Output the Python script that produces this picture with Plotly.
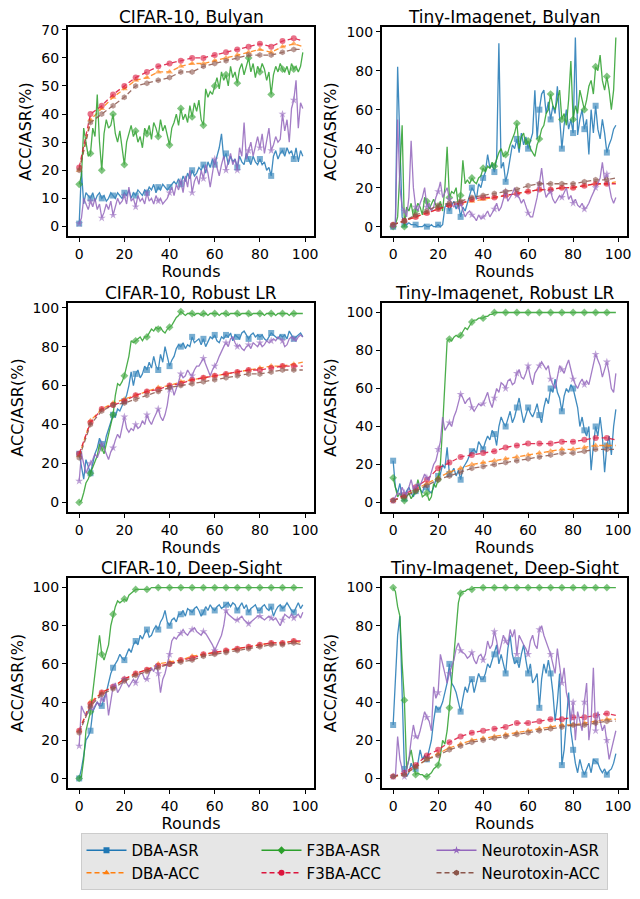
import plotly.graph_objects as go

ROUNDS = list(range(100))
ACC_ROUNDS = [0, 5, 10, 15, 20, 25, 30, 35, 40, 45, 50, 55, 60, 65, 70, 75, 80, 85, 90, 95, 99]
X_TICKS = [0, 20, 40, 60, 80, 100]

SERIES_NAMES = ["DBA-ASR", "DBA-ACC", "F3BA-ASR", "F3BA-ACC", "Neurotoxin-ASR", "Neurotoxin-ACC"]
PANEL_TITLES = ["CIFAR-10, Bulyan", "Tiny-Imagenet, Bulyan",
                "CIFAR-10, Robust LR", "Tiny-Imagenet, Robust LR",
                "CIFAR-10, Deep-Sight", "Tiny-Imagenet, Deep-Sight"]

# ---------------- CIFAR-10, Bulyan ----------------
c10_bul_dba_asr = [1, 20, 8, 12, 11, 10, 12, 9, 11, 12,
                   10, 11, 9, 10, 12, 11, 10, 12, 11, 10,
                   12, 11, 13, 10, 12, 11, 13, 12, 11, 13,
                   12, 14, 13, 15, 12, 14, 13, 15, 14, 13,
                   14, 15, 16, 15, 17, 15, 18, 16, 19, 17,
                   20, 18, 19, 21, 20, 22, 19, 23, 21, 24,
                   22, 25, 28, 33, 24, 26, 22, 25, 23, 24,
                   21, 25, 23, 22, 26, 24, 22, 25, 23, 22,
                   24, 22, 23, 20, 21, 18, 25, 27, 24, 26,
                   27, 25, 28, 26, 27, 24, 28, 23, 27, 25]
c10_bul_f3ba_asr = [15, 18, 35, 30, 25, 26, 35, 32, 47, 30,
                    20, 33, 38, 35, 36, 40, 33, 30, 34, 28,
                    22, 30, 33, 36, 32, 34, 30, 32, 28, 35,
                    33, 36, 31, 37, 35, 32, 38, 34, 36, 33,
                    29, 35, 37, 40, 36, 42, 38, 40, 37, 43,
                    39, 44, 41, 45, 38, 36, 49, 46, 48, 47,
                    50, 53, 49, 55, 52, 54, 50, 57, 53, 55,
                    51, 56, 58, 54, 57, 60, 55, 58, 53, 57,
                    55, 58, 56, 52, 55, 47, 54, 57, 55, 58,
                    56, 55, 57, 54, 58, 56, 57, 55, 57, 62]
c10_bul_neuro_asr = [1, 3, 10, 8, 6, 9, 7, 10, 6, 8,
                     3, 5, 8, 6, 9, 4, 7, 10, 8, 9,
                     11, 8, 14, 9, 10, 7, 11, 9, 10, 8,
                     12, 9, 10, 8, 11, 9, 10, 8, 9, 10,
                     12, 14, 11, 15, 13, 16, 12, 18, 14, 20,
                     12, 16, 18, 15, 20, 17, 22, 19, 14, 20,
                     24, 21, 18, 22, 25, 20, 23, 26, 22, 24,
                     20, 28, 25, 37, 24, 27, 30, 25, 29, 32,
                     28, 33, 26, 30, 35, 27, 29, 32, 30, 31,
                     40, 34, 38, 30, 42, 45, 52, 35, 44, 42]
c10_bul_dba_acc = [20, 38, 42, 46, 49, 52, 53, 55, 55, 57, 58, 58, 59, 60, 61, 62, 63, 62, 64, 65, 64]
c10_bul_f3ba_acc = [21, 40, 43, 47, 50, 53, 55, 57, 58, 59, 60, 60, 61, 62, 63, 64, 65, 64, 66, 67, 66]
c10_bul_neuro_acc = [20, 37, 40, 43, 46, 50, 51, 52, 53, 55, 55, 57, 58, 59, 60, 61, 61, 61, 62, 63, 63]

# ---------------- Tiny-Imagenet, Bulyan ----------------
tin_bul_dba_asr = [0, 1, 82, 40, 5, 1, 1, 2, 1, 1,
                   1, 0, 0, 0, 1, 0, 0, 1, 0, 0,
                   1, 0, 1, 10, 12, 8, 11, 13, 9, 12,
                   5, 10, 8, 12, 15, 20, 18, 14, 22, 20,
                   25, 28, 37, 30, 32, 28, 35, 94, 30, 33,
                   23, 28, 35, 42, 40, 45, 38, 48, 42, 46,
                   40, 44, 48, 70, 45, 60, 68, 70, 58, 64,
                   55, 62, 58, 72, 55, 40, 52, 60, 50, 55,
                   48, 97, 47, 55, 60, 50, 55, 37, 60, 48,
                   62, 50, 45, 55, 48, 38, 42, 45, 50, 52]
tin_bul_f3ba_asr = [0, 1, 5, 30, 52, 0, 10, 8, 12, 5,
                    8, 12, 10, 6, 15, 13, 9, 12, 14, 11,
                    10, 13, 8, 20, 41, 15, 18, 17, 20, 10,
                    16, 34, 22, 24, 22, 25, 23, 22, 25, 26,
                    30, 28, 31, 30, 33, 31, 35, 38, 40, 36,
                    37, 38, 42, 45, 48, 53, 40, 46, 48, 42,
                    44, 40, 38, 36, 42, 45, 50, 52, 58, 60,
                    68, 62, 60, 65, 70, 55, 58, 52, 65, 85,
                    55, 62, 58, 70, 65, 60, 65, 72, 75, 68,
                    82, 80, 88, 75, 70, 77, 70, 60, 70, 97]
tin_bul_neuro_asr = [0, 1, 55, 20, 10, 8, 5, 15, 44, 20,
                     10, 8, 12, 15, 20, 10, 12, 8, 10, 15,
                     18, 23, 15, 18, 20, 14, 12, 10, 12, 9,
                     12, 8, 5, 7, 8, 6, 5, 3, 6, 4,
                     5, 6, 8, 5, 7, 9, 12, 8, 10, 14,
                     18, 13, 15, 17, 20, 16, 15, 12, 14, 10,
                     7, 5, 5, 10, 15, 22, 30, 20, 15, 17,
                     18, 14, 12, 14, 16, 15, 18, 20, 14, 16,
                     12, 14, 11, 10, 12, 9, 10, 12, 15, 18,
                     20, 22, 25, 33, 24, 27, 20, 15, 12, 15]
tin_bul_dba_acc = [1, 3, 5, 7, 9, 11, 12, 13, 14, 15, 16, 17, 18, 19, 19, 20, 20, 21, 22, 22, 23]
tin_bul_f3ba_acc = [1, 3, 5, 7, 9, 11, 12, 14, 15, 15, 16, 17, 18, 19, 19, 20, 20, 21, 22, 22, 22]
tin_bul_neuro_acc = [1, 3, 6, 8, 11, 12, 13, 15, 16, 17, 18, 19, 21, 22, 22, 22, 22, 23, 24, 24, 25]

# ---------------- CIFAR-10, Robust LR ----------------
c10_rlr_dba_asr = [25, 18, 12, 22, 18, 15, 20, 25, 28, 33,
                   30, 28, 34, 38, 42, 45, 44, 48, 47, 50,
                   52, 55, 60, 67, 60, 66, 68, 64, 66, 70,
                   68, 72, 69, 75, 70, 68, 76, 72, 80, 74,
                   70, 73, 75, 79, 81, 80, 82, 79, 81, 80,
                   85, 82, 83, 84, 81, 84, 80, 83, 85, 84,
                   86, 83, 82, 85, 84, 86, 85, 87, 83, 86,
                   85, 84, 87, 88, 86, 84, 86, 87, 85, 86,
                   85, 86, 84, 83, 85, 87, 86, 85, 84, 86,
                   85, 86, 84, 88, 86, 84, 85, 86, 87, 85]
c10_rlr_f3ba_asr = [0, 1, 5, 10, 12, 15, 17, 20, 24, 30,
                    28, 25, 30, 35, 40, 45, 55, 61, 60, 62,
                    65, 70, 75, 83, 82, 83, 84, 85, 83, 85,
                    85, 87, 89, 88, 90, 89, 90, 88, 87, 89,
                    90, 91, 93, 95, 96, 98, 97, 96, 97, 97,
                    97, 96, 97, 97, 96, 97, 97, 96, 97, 97,
                    97, 97, 96, 97, 97, 97, 96, 97, 97, 97,
                    97, 96, 97, 97, 97, 97, 96, 97, 97, 97,
                    97, 97, 96, 97, 97, 97, 97, 96, 97, 97,
                    97, 97, 97, 96, 97, 97, 97, 97, 97, 97]
c10_rlr_neuro_asr = [11, 25, 20, 15, 18, 20, 22, 25, 23, 26,
                     30, 28, 25, 22, 26, 28, 32, 35, 33, 38,
                     44, 38, 36, 38, 37, 40, 38, 39, 42, 40,
                     45, 42, 40, 43, 46, 48, 44, 42, 45, 50,
                     58, 60, 55, 58, 62, 66, 64, 65, 68, 66,
                     65, 68, 70, 70, 72, 74, 71, 68, 65, 68,
                     70, 72, 75, 78, 80, 82, 80, 84, 85, 82,
                     80, 81, 79, 78, 80, 81, 79, 82, 81, 80,
                     82, 80, 81, 83, 82, 83, 84, 83, 85, 84,
                     83, 80, 81, 84, 85, 84, 83, 85, 86, 85]
c10_rlr_dba_acc = [24, 42, 48, 51, 53, 55, 57, 59, 60, 62, 63, 64, 65, 66, 67, 68, 69, 70, 70, 71, 72]
c10_rlr_f3ba_acc = [25, 41, 48, 50, 52, 55, 57, 58, 60, 61, 63, 64, 65, 66, 67, 68, 68, 69, 70, 70, 70]
c10_rlr_neuro_acc = [23, 40, 47, 50, 51, 53, 55, 57, 59, 60, 61, 62, 63, 64, 65, 66, 66, 67, 68, 68, 68]

# ---------------- Tiny-Imagenet, Robust LR ----------------
tin_rlr_dba_asr = [22, 8, 5, 10, 3, 2, 6, 8, 5, 3,
                   6, 10, 7, 5, 9, 8, 6, 5, 8, 12,
                   14, 15, 20, 18, 29, 15, 16, 18, 14, 17,
                   12, 18, 20, 22, 25, 27, 28, 26, 32, 30,
                   28, 32, 35, 33, 38, 36, 30, 40, 45, 42,
                   40, 44, 48, 42, 45, 50, 55, 48, 42, 46,
                   50, 47, 45, 48, 52, 46, 42, 50, 55, 52,
                   60, 58, 65, 58, 55, 48, 56, 60, 58, 62,
                   60, 55, 50, 40, 45, 38, 35, 40, 17, 30,
                   40, 35, 45, 35, 16, 30, 35, 25, 40, 49]
tin_rlr_f3ba_asr = [13, 8, 3, 5, 2, 1, 3, 5, 2, 4,
                    6, 12, 8, 3, 4, 5, 1, 3, 10, 8,
                    12, 20, 40, 65, 85, 86, 85, 87, 88, 87,
                    88, 90, 92, 91, 93, 95, 96, 96, 97, 97,
                    97, 98, 98, 99, 99, 100, 100, 100, 100, 100,
                    100, 100, 100, 100, 100, 100, 100, 100, 100, 100,
                    100, 100, 100, 100, 100, 100, 100, 100, 100, 100,
                    100, 100, 100, 100, 100, 100, 100, 100, 100, 100,
                    100, 100, 100, 100, 100, 100, 100, 100, 100, 100,
                    100, 100, 100, 100, 100, 100, 100, 100, 100, 100]
tin_rlr_neuro_asr = [1, 3, 5, 4, 8, 5, 4, 8, 12, 7,
                     8, 10, 9, 12, 15, 13, 12, 16, 20, 22,
                     28, 32, 45, 38, 40, 42, 40, 45, 48, 52,
                     57, 55, 52, 54, 55, 50, 48, 50, 52, 51,
                     52, 55, 58, 53, 50, 55, 60, 58, 63, 62,
                     60, 64, 65, 62, 63, 68, 70, 66, 65, 68,
                     72, 66, 62, 68, 70, 72, 74, 72, 70, 72,
                     65, 62, 60, 66, 72, 70, 68, 72, 75, 70,
                     65, 62, 60, 63, 65, 62, 64, 62, 68, 72,
                     78, 75, 72, 66, 70, 74, 68, 60, 58, 68]
tin_rlr_dba_acc = [1, 3, 7, 10, 13, 16, 18, 20, 21, 22, 23, 24, 25, 26, 27, 28, 28, 29, 30, 30, 30]
tin_rlr_f3ba_acc = [1, 4, 8, 12, 18, 21, 24, 25, 26, 27, 29, 30, 31, 31, 31, 32, 32, 33, 34, 34, 33]
tin_rlr_neuro_acc = [1, 3, 6, 9, 12, 14, 16, 18, 19, 20, 21, 22, 23, 24, 25, 26, 26, 27, 28, 28, 28]

# ---------------- CIFAR-10, Deep-Sight ----------------
c10_ds_dba_asr = [0, 5, 12, 20, 22, 25, 35, 38, 40, 38,
                  38, 42, 45, 50, 55, 58, 60, 62, 65, 63,
                  62, 65, 68, 66, 70, 72, 70, 75, 73, 76,
                  78, 74, 75, 78, 80, 78, 82, 84, 88, 82,
                  80, 83, 84, 82, 86, 86, 88, 85, 89, 88,
                  87, 89, 90, 88, 85, 87, 90, 88, 91, 89,
                  88, 90, 91, 89, 90, 91, 92, 90, 92, 91,
                  88, 90, 92, 89, 91, 87, 89, 90, 91, 88,
                  88, 90, 91, 89, 88, 90, 85, 88, 90, 91,
                  89, 90, 92, 90, 88, 87, 90, 92, 89, 91]
c10_ds_f3ba_asr = [0, 1, 10, 25, 30, 35, 45, 55, 62, 75,
                   65, 62, 66, 70, 80, 86, 90, 93, 92, 93,
                   94, 93, 96, 97, 98, 99, 99, 99, 99, 99,
                   99, 99, 100, 100, 100, 100, 100, 100, 100, 100,
                   100, 100, 100, 100, 100, 100, 100, 100, 100, 100,
                   100, 100, 100, 100, 100, 100, 100, 100, 100, 100,
                   100, 100, 100, 100, 100, 100, 100, 100, 100, 100,
                   100, 100, 100, 100, 100, 100, 100, 100, 100, 100,
                   100, 100, 100, 100, 100, 100, 100, 100, 100, 100,
                   100, 100, 100, 100, 100, 100, 100, 100, 100, 100]
c10_ds_neuro_asr = [17, 38, 35, 33, 35, 37, 36, 38, 40, 38,
                    42, 40, 45, 33, 40, 48, 50, 45, 47, 50,
                    52, 50, 48, 50, 52, 50, 53, 55, 55, 52,
                    52, 55, 58, 56, 60, 55, 45, 52, 55, 60,
                    65, 72, 74, 73, 75, 76, 78, 76, 75, 77,
                    78, 79, 77, 76, 75, 77, 76, 74, 72, 70,
                    67, 70, 73, 75, 80, 88, 86, 85, 84, 83,
                    83, 84, 85, 83, 82, 81, 82, 83, 84, 85,
                    85, 84, 83, 84, 85, 84, 83, 84, 82, 80,
                    83, 86, 85, 84, 86, 84, 85, 86, 84, 87]
c10_ds_dba_acc = [25, 40, 45, 48, 52, 55, 57, 60, 61, 62, 64, 65, 66, 67, 68, 69, 70, 71, 71, 72, 71]
c10_ds_f3ba_acc = [25, 39, 45, 48, 52, 55, 57, 59, 60, 62, 63, 65, 66, 67, 68, 69, 70, 71, 71, 72, 72]
c10_ds_neuro_acc = [24, 38, 44, 47, 51, 54, 56, 58, 60, 61, 62, 64, 65, 66, 67, 68, 69, 70, 70, 71, 70]

# ---------------- Tiny-Imagenet, Deep-Sight ----------------
tin_ds_dba_asr = [28, 50, 75, 85, 40, 5, 1, 3, 8, 5,
                  5, 8, 15, 10, 12, 10, 15, 20, 30, 38,
                  36, 37, 40, 45, 50, 60, 50, 48, 45, 40,
                  35, 42, 48, 45, 50, 52, 45, 50, 55, 52,
                  52, 55, 60, 58, 62, 65, 70, 60, 65, 60,
                  55, 68, 75, 65, 60, 62, 58, 65, 70, 62,
                  55, 60, 50, 52, 55, 37, 52, 60, 55, 62,
                  55, 45, 30, 40, 55, 7, 15, 30, 45, 25,
                  15, 8, 3, 10, 5, 2, 5, 8, 3, 10,
                  9, 8, 5, 3, 5, 2, 4, 5, 8, 13]
tin_ds_f3ba_asr = [100, 98, 90, 85, 60, 41, 5, 10, 15, 8,
                   2, 3, 2, 2, 1, 1, 2, 3, 5, 6,
                   7, 12, 20, 18, 25, 37, 50, 65, 80, 92,
                   97, 98, 98, 99, 99, 99, 100, 100, 100, 100,
                   100, 100, 100, 100, 100, 100, 100, 100, 100, 100,
                   100, 100, 100, 100, 100, 100, 100, 100, 100, 100,
                   100, 100, 100, 100, 100, 100, 100, 100, 100, 100,
                   100, 100, 100, 100, 100, 100, 100, 100, 100, 100,
                   100, 100, 100, 100, 100, 100, 100, 100, 100, 100,
                   100, 100, 100, 100, 100, 100, 100, 100, 100, 100]
tin_ds_neuro_asr = [1, 1, 22, 10, 5, 1, 5, 10, 20, 28,
                    22, 21, 25, 30, 35, 32, 30, 25, 48, 42,
                    45, 65, 60, 55, 50, 55, 58, 62, 68, 71,
                    67, 66, 65, 63, 64, 66, 62, 60, 64, 65,
                    62, 65, 72, 68, 70, 77, 72, 65, 70, 75,
                    72, 70, 78, 74, 78, 65, 75, 72, 70, 68,
                    65, 72, 75, 70, 68, 78, 80, 75, 72, 68,
                    65, 60, 55, 68, 60, 50, 58, 45, 40, 30,
                    40, 20, 35, 30, 25, 40, 50, 20, 30, 58,
                    25, 35, 30, 25, 28, 20, 10, 15, 20, 25]
tin_ds_dba_acc = [1, 2, 6, 10, 13, 16, 18, 20, 21, 22, 23, 24, 25, 26, 27, 28, 28, 29, 30, 31, 31]
tin_ds_f3ba_acc = [1, 3, 7, 12, 15, 19, 22, 24, 25, 26, 27, 29, 29, 30, 31, 31, 32, 32, 33, 34, 33]
tin_ds_neuro_acc = [1, 2, 6, 10, 12, 15, 17, 19, 20, 21, 22, 23, 24, 25, 26, 27, 28, 28, 29, 30, 30]

PANELS = [
    (c10_bul_dba_asr, c10_bul_dba_acc, c10_bul_f3ba_asr, c10_bul_f3ba_acc, c10_bul_neuro_asr, c10_bul_neuro_acc),
    (tin_bul_dba_asr, tin_bul_dba_acc, tin_bul_f3ba_asr, tin_bul_f3ba_acc, tin_bul_neuro_asr, tin_bul_neuro_acc),
    (c10_rlr_dba_asr, c10_rlr_dba_acc, c10_rlr_f3ba_asr, c10_rlr_f3ba_acc, c10_rlr_neuro_asr, c10_rlr_neuro_acc),
    (tin_rlr_dba_asr, tin_rlr_dba_acc, tin_rlr_f3ba_asr, tin_rlr_f3ba_acc, tin_rlr_neuro_asr, tin_rlr_neuro_acc),
    (c10_ds_dba_asr, c10_ds_dba_acc, c10_ds_f3ba_asr, c10_ds_f3ba_acc, c10_ds_neuro_asr, c10_ds_neuro_acc),
    (tin_ds_dba_asr, tin_ds_dba_acc, tin_ds_f3ba_asr, tin_ds_f3ba_acc, tin_ds_neuro_asr, tin_ds_neuro_acc),
]

# ---------------- styling ----------------
COLORS = ["#1f77b4", "#ff7f0e", "#2ca02c", "#dc143c", "#9467bd", "#8c564b"]
SYMBOLS = ["square", "triangle-up", "diamond", "circle", "star", "hexagon"]
DASHES = ["solid", "5px,3px", "solid", "5px,3px", "solid", "5px,3px"]
Y_RANGES = [[-3.4, 71], [-4.8, 102.4], [-4.9, 102.4], [-5, 105], [-5, 105], [-5, 105]]
Y_DTICK = [10, 20, 20, 20, 20, 20]

# the page body adds an 8px margin, so the figure is sized/positioned to compensate
OFF = 8
W, H = 640 - OFF, 899 - 2 * OFF
COL_X = [(68, 314), (382, 627)]          # page pixels
ROW_Y = [(27, 236), (303, 512), (578, 788)]
FONT = "DejaVu Sans, Liberation Sans, sans-serif"


def px(xp):
    return (xp - OFF) / W


def py(yp):
    return 1 - (yp - OFF) / H


fig = go.Figure()
annotations = []

for p, series in enumerate(PANELS):
    row, col = divmod(p, 2)
    ax = "" if p == 0 else str(p + 1)
    for s, vals in enumerate(series):
        is_acc = s % 2 == 1
        xs = ACC_ROUNDS if is_acc else ROUNDS
        sizes = [6 if x % 5 == 0 else 0 for x in xs]
        fig.add_trace(go.Scatter(
            x=xs, y=vals, mode="lines+markers", name=SERIES_NAMES[s],
            showlegend=False, xaxis="x" + ax, yaxis="y" + ax,
            line=dict(color=COLORS[s], width=1.3, dash=DASHES[s]),
            marker=dict(color=COLORS[s], symbol=SYMBOLS[s], size=sizes, line=dict(width=0)),
            opacity=0.85,
        ))
    x0, x1 = COL_X[col]
    yt, yb = ROW_Y[row]
    axis_common = dict(showline=True, linewidth=2, linecolor="black", mirror=True,
                       ticks="outside", ticklen=4, tickwidth=1.2, tickcolor="black",
                       showgrid=False, zeroline=False, automargin=False,
                       tickfont=dict(family=FONT, size=14, color="black"))
    fig.layout["xaxis" + ax] = dict(
        domain=[px(x0), px(x1)], anchor="y" + ax, range=[-4.95, 103.95],
        tickvals=X_TICKS,
        title=dict(text="Rounds", font=dict(family=FONT, size=16, color="black"), standoff=2),
        **axis_common)
    fig.layout["yaxis" + ax] = dict(
        domain=[py(yb), py(yt)], anchor="x" + ax, range=Y_RANGES[p],
        dtick=Y_DTICK[p], tick0=0,
        title=dict(text="ACC/ASR(%)", font=dict(family=FONT, size=16, color="black"), standoff=6),
        **axis_common)
    annotations.append(dict(
        text=PANEL_TITLES[p], x=(px(x0) + px(x1)) / 2, y=py(yt), xref="paper", yref="paper",
        xanchor="center", yanchor="bottom", yshift=-2, showarrow=False,
        font=dict(family=FONT, size=17, color="black")))

# legend-only entries (row-wise order so columns read DBA / F3BA / Neurotoxin)
for s in [0, 2, 4, 1, 3, 5]:
    fig.add_trace(go.Scatter(
        x=[None], y=[None], mode="lines+markers", name=SERIES_NAMES[s],
        line=dict(color=COLORS[s], width=1.3, dash=DASHES[s]),
        marker=dict(color=COLORS[s], symbol=SYMBOLS[s], size=6),
        showlegend=True))

fig.update_layout(
    width=W, height=H,
    margin=dict(l=0, r=0, t=0, b=0),
    paper_bgcolor="white", plot_bgcolor="white",
    annotations=annotations,
    showlegend=True,
    legend=dict(orientation="h", x=px(344), xanchor="center", y=py(833), yanchor="top",
                bgcolor="#e6e6e6", bordercolor="#cccccc", borderwidth=1,
                font=dict(family=FONT, size=15, color="black"),
                entrywidth=120, entrywidthmode="pixels", traceorder="normal",
                itemwidth=40),
)

fig.write_html("out.html")
